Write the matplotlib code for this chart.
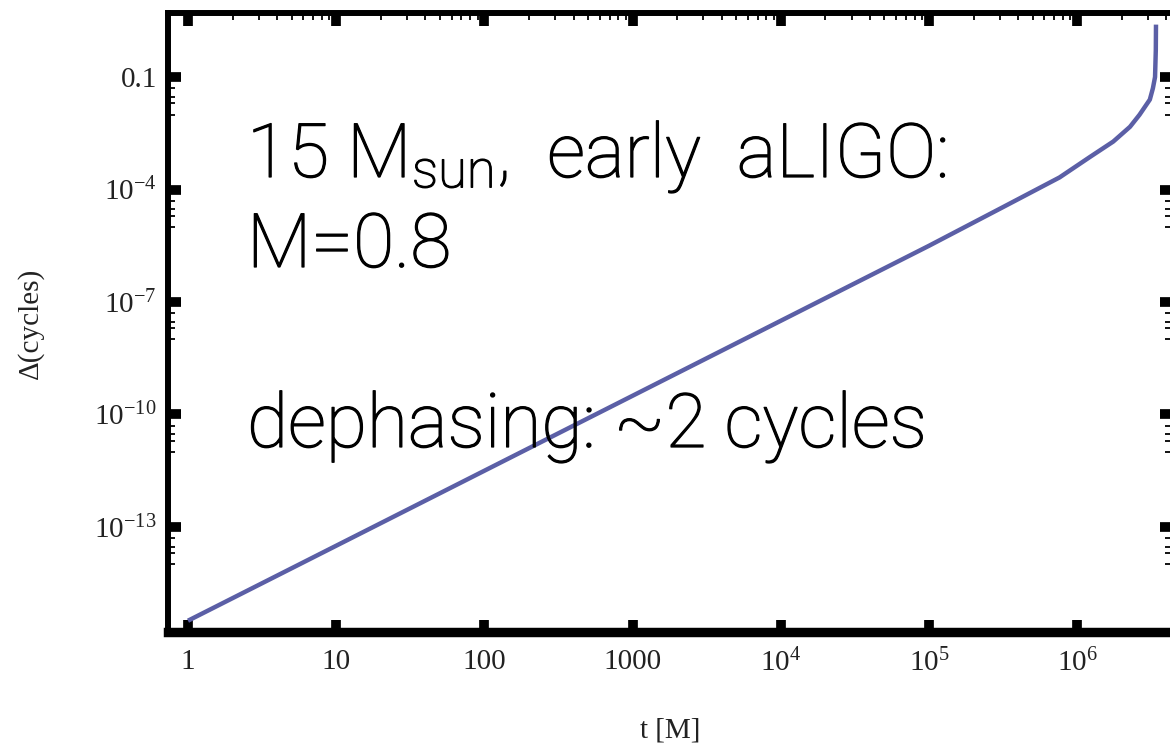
import matplotlib
matplotlib.use("Agg")
import matplotlib.pyplot as plt
import matplotlib.patheffects as pe
import numpy as np

# ---- data ----
t_vals = [1, 10, 100, 1e3, 1e4, 1e5, 3.16e5, 7.6e5, 1.22e6, 1.75e6,
          2.27e6, 2.63e6, 3.09e6, 3.24e6, 3.35e6, 3.39e6, 3.40e6]
delta_vals = [3.16e-16, 3.16e-14, 3.16e-12, 3.16e-10, 3.16e-8, 3.16e-6, 3.4e-5,
              2.1e-4, 7.4e-4, 1.9e-3, 4.7e-3, 9.8e-3, 2.5e-2, 5.0e-2,
              0.1, 0.52, 2.5]
x_ticks = [1, 10, 100, 1000, 1e4, 1e5, 1e6]
x_ticklabels = ["1", "10", "100", "1000", r"$10^{4}$", r"$10^{5}$", r"$10^{6}$"]
y_ticks = [0.1, 1e-4, 1e-7, 1e-10, 1e-13]
y_ticklabels = ["0.1", r"$10^{-4}$", r"$10^{-7}$", r"$10^{-10}$", r"$10^{-13}$"]
x_label = "t [M]"
y_label = "Δ(cycles)"
annotation_lines = ["15 M$_{\\mathregular{sun}}$,  early  aLIGO:", "M=0.8", "", "dephasing: ~2 cycles"]

plt.rcParams['mathtext.fontset'] = 'custom'
plt.rcParams['mathtext.rm'] = 'Liberation Serif'
plt.rcParams['mathtext.it'] = 'Liberation Serif:italic'

W, H = 1170, 749
fig = plt.figure(figsize=(W / 100, H / 100), dpi=100)
ax = fig.add_axes([168 / W, 1 - 632 / H, (1172 - 168) / W, (632 - 13) / H])

ax.plot(t_vals, delta_vals, color='#5b5fa6', lw=3.2, solid_capstyle='butt',
        solid_joinstyle='round')
ax.set_xscale('log')
ax.set_yscale('log')

serif = 'Liberation Serif'
tfs = 21
ax.set_xticks(x_ticks)
ax.set_xticklabels(x_ticklabels, fontfamily=serif, fontsize=tfs, color='#222222')
ax.set_yticks(y_ticks)
ax.set_yticklabels(y_ticklabels, fontfamily=serif, fontsize=tfs, color='#222222')

# minor ticks
xminor = [m * d for d in [1, 10, 100, 1e3, 1e4, 1e5, 1e6] for m in range(2, 10)]
ax.set_xticks(xminor, minor=True)
yminor = [M * f for M in y_ticks for f in (0.5, 0.3, 0.2, 0.1)]
ax.set_yticks(yminor, minor=True)
ax.tick_params(which='minor', labelbottom=False, labelleft=False)

ax.set_xlim(0.733, 4.36e6)
ax.set_ylim(1.58e-16, 5.1)

ax.tick_params(which='major', direction='in', length=9, width=7, color='black',
               top=True, right=True, pad=8)
ax.tick_params(axis='x', which='major', pad=12)
ax.tick_params(which='minor', direction='in', length=5, width=1.3, color='black',
               top=True, right=True, bottom=False)

for side, lw in [('left', 4.3), ('top', 4.3), ('right', 4.3), ('bottom', 6.8)]:
    ax.spines[side].set_linewidth(lw)
    ax.spines[side].set_color('black')

fig.text(30 / W, 1 - 323 / H, y_label, rotation=90, ha='center', va='center',
         fontfamily=serif, fontsize=tfs, color='#222222')
fig.text(670 / W, 1 - 731 / H, x_label, ha='center', va='center',
         fontfamily=serif, fontsize=tfs, color='#222222')

baselines = [177, 267, 357, 447]
for line, yb in zip(annotation_lines, baselines):
    if line:
        fig.text(247 / W, 1 - yb / H, line, ha='left', va='baseline',
                 fontfamily=['Roboto', 'DejaVu Sans'], fontweight='light',
                 fontsize=54, color='black',
                 path_effects=[pe.withStroke(linewidth=0.9, foreground='black')])

fig.savefig('out.png', dpi=100)
